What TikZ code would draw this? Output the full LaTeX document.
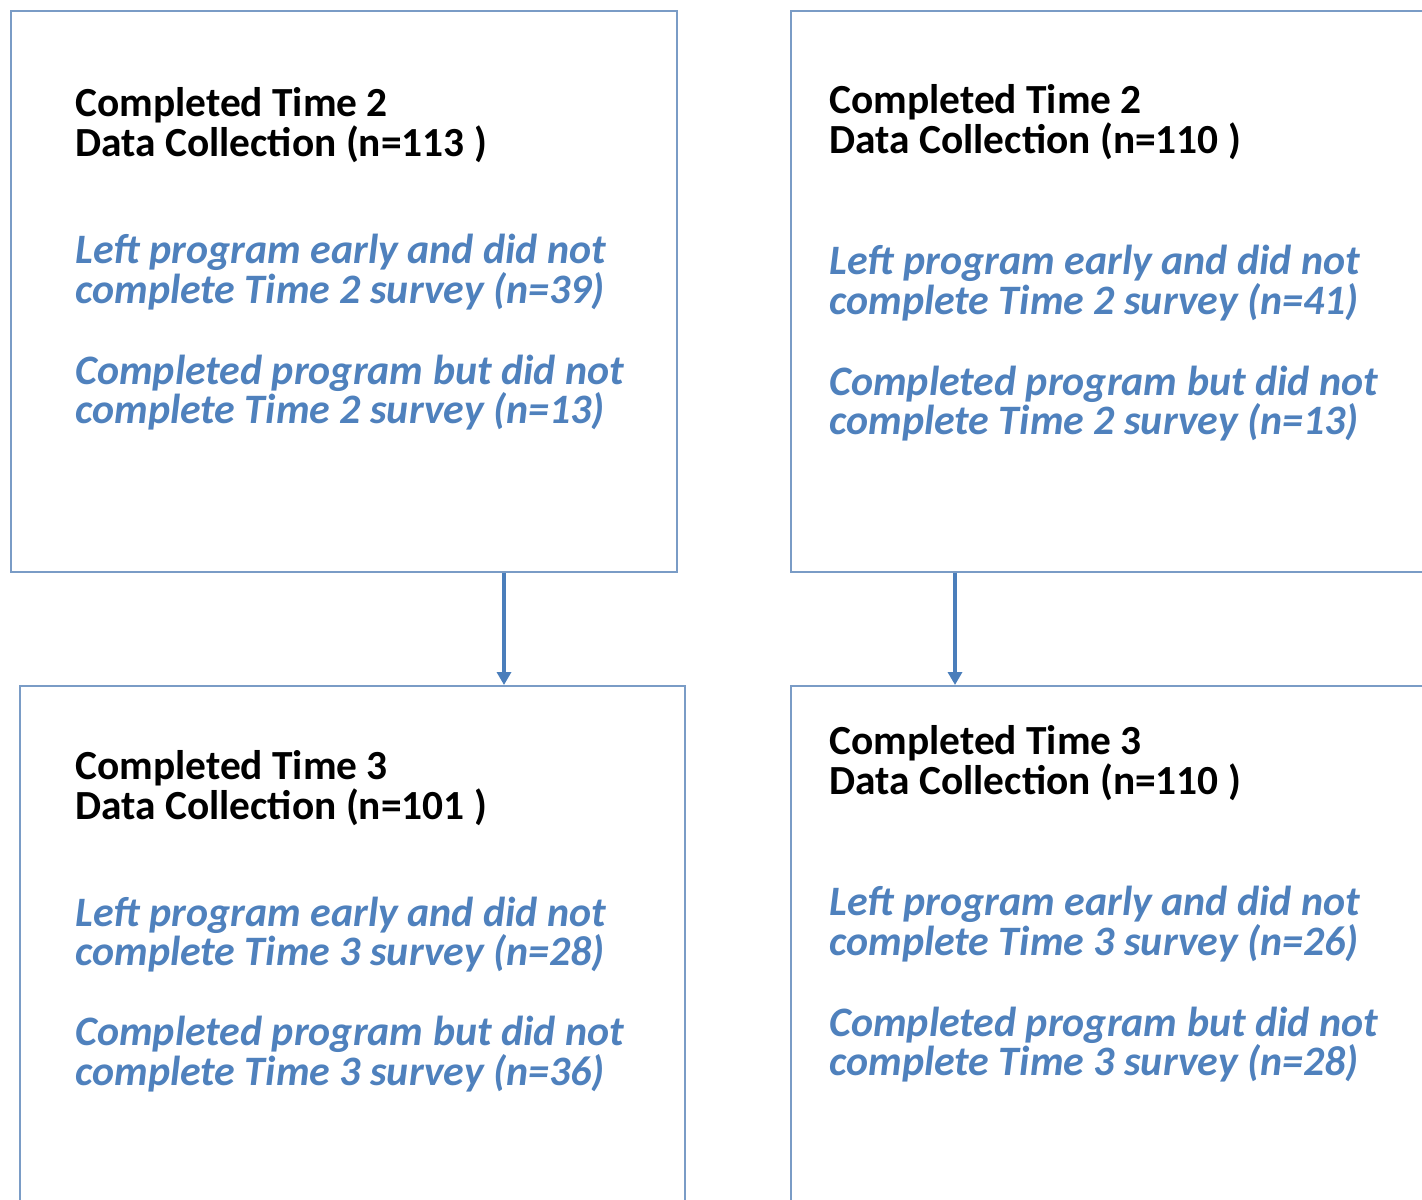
\documentclass[tikz,border=0pt]{standalone}
\usepackage{fontspec}
\setmainfont{Carlito}
\usetikzlibrary{arrows.meta}
\definecolor{txtblue}{HTML}{4F81BD}
\definecolor{boxline}{HTML}{7A9CC6}
\definecolor{arrblue}{HTML}{4A7EBB}
\tikzset{
  frame/.style={draw=boxline, line width=0.8pt, fill=white, anchor=north west, inner sep=0pt},
  ttl/.style={anchor=base west, inner sep=0pt, font=\fontsize{20.7}{20}\selectfont\bfseries, text=black},
  sub/.style={anchor=base west, inner sep=0pt, font=\fontsize{20.95}{20}\selectfont\bfseries\itshape, text=txtblue},
  arr/.style={draw=arrblue, line width=1.9pt, -{Triangle[width=7pt,length=6.5pt]}}
}
\begin{document}
\begin{tikzpicture}[x=0.5pt,y=-0.5pt]
\useasboundingbox (0,0) rectangle (1422,1199);
\clip (0,0) rectangle (1422,1199);
% boxes
\node[frame, minimum width=333pt, minimum height=280.5pt] (tl) at (10,10) {};
\node[frame, minimum width=330pt, minimum height=280.5pt] (tr) at (790,10) {};
\node[frame, minimum width=332.5pt, minimum height=270pt] (bl) at (19,685) {};
\node[frame, minimum width=330pt, minimum height=270pt] (br) at (790,685) {};
% arrows
\draw[arr] (tl.south -| 504,0) -- (bl.north -| 504,0);
\draw[arr] (tr.south -| 955,0) -- (br.north -| 955,0);
% top-left text
\node[ttl] (tl1) at (75,116) {Completed Time 2};
\node[ttl] (tl2) at (75,156) {Data Collection (n=113 )};
\node[sub] (tl3) at (75,263) {Left program early and did not};
\node[sub] (tl4) at (75,303) {complete Time 2 survey (n=39)};
\node[sub] (tl5) at (75,384) {Completed program but did not};
\node[sub] (tl6) at (75,423) {complete Time 2 survey (n=13)};
% top-right text
\node[ttl] (tr1) at (829,113) {Completed Time 2};
\node[ttl] (tr2) at (829,153) {Data Collection (n=110 )};
\node[sub] (tr3) at (829,274) {Left program early and did not};
\node[sub] (tr4) at (829,314) {complete Time 2 survey (n=41)};
\node[sub] (tr5) at (829,395) {Completed program but did not};
\node[sub] (tr6) at (829,434) {complete Time 2 survey (n=13)};
% bottom-left text
\node[ttl] (bl1) at (75,779) {Completed Time 3};
\node[ttl] (bl2) at (75,819) {Data Collection (n=101 )};
\node[sub] (bl3) at (75,926) {Left program early and did not};
\node[sub] (bl4) at (75,965) {complete Time 3 survey (n=28)};
\node[sub] (bl5) at (75,1045) {Completed program but did not};
\node[sub] (bl6) at (75,1085) {complete Time 3 survey (n=36)};
% bottom-right text
\node[ttl] (br1) at (829,754) {Completed Time 3};
\node[ttl] (br2) at (829,794) {Data Collection (n=110 )};
\node[sub] (br3) at (829,915) {Left program early and did not};
\node[sub] (br4) at (829,955) {complete Time 3 survey (n=26)};
\node[sub] (br5) at (829,1036) {Completed program but did not};
\node[sub] (br6) at (829,1075) {complete Time 3 survey (n=28)};
\end{tikzpicture}
\end{document}
